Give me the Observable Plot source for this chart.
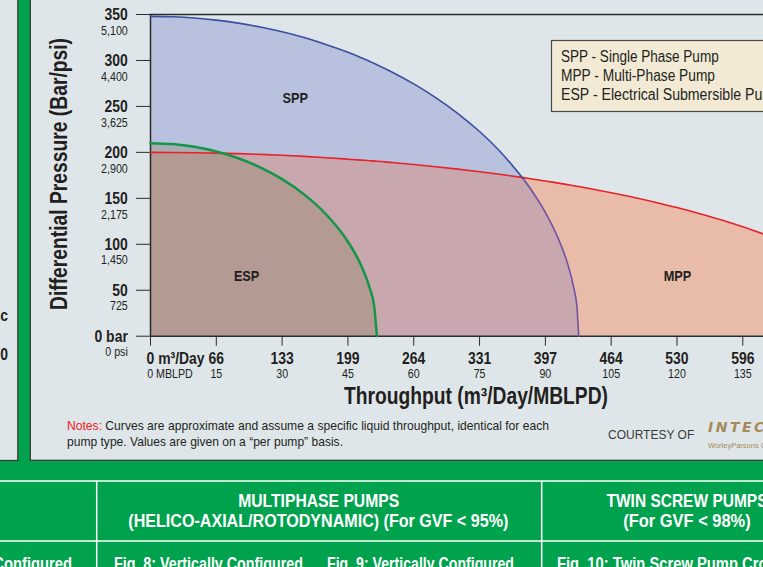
<!DOCTYPE html>
<html>
<head>
<meta charset="utf-8">
<script src="https://cdn.jsdelivr.net/npm/d3@7"></script>
<script src="https://cdn.jsdelivr.net/npm/@observablehq/plot@0.6"></script>
<style>
  html, body { margin: 0; padding: 0; }
  body { width: 763px; height: 567px; overflow: hidden; position: relative; background: #00a24d; }
  .layer { position: absolute; left: 0; top: 0; }
  #chart svg line { stroke-width: 1.5px; }
  .nar { font-family: "Liberation Sans", Arial, sans-serif; }
</style>
</head>
<body>
<svg class="layer" width="763" height="567">
  <rect x="0" y="0" width="763" height="567" fill="#00a24d"/>
  <rect x="-5" y="-5" width="22.8" height="465.5" fill="#dfe6e9" stroke="#3a3a3a" stroke-width="1.3"/>
  <rect x="30.3" y="-5" width="800" height="465.3" fill="#dfe6e9" stroke="#3a3a3a" stroke-width="1.3"/>
  <line x1="0" x2="763" y1="481" y2="481" stroke="#ffffff" stroke-width="1.5"/>
  <line x1="0" x2="763" y1="541" y2="541" stroke="#ffffff" stroke-width="1.5"/>
  <line x1="96.7" x2="96.7" y1="481" y2="567" stroke="#ffffff" stroke-width="1.5"/>
  <line x1="541.7" x2="541.7" y1="481" y2="567" stroke="#ffffff" stroke-width="1.5"/>
</svg>
<div id="chart" class="layer"></div>
<svg id="deco" class="layer nar" width="763" height="567" fill="#231f20">
  <text transform="translate(66.5,174) rotate(-90)" text-anchor="middle" font-weight="bold" font-size="23" data-w="272">Differential Pressure (Bar/psi)</text>
  <text x="476" y="404" text-anchor="middle" font-weight="bold" font-size="23" data-w="264">Throughput (m³/Day/MBLPD)</text>
  <rect x="551.5" y="40.5" width="240" height="71" fill="#f2ead5" stroke="#4a4a4a" stroke-width="1.2"/>
  <text x="561" y="61.7" font-size="16" data-w="157.7">SPP - Single Phase Pump</text>
  <text x="561" y="80.7" font-size="16" data-w="154">MPP - Multi-Phase Pump</text>
  <text x="561" y="99.5" font-size="16" data-w="221">ESP - Electrical Submersible Pump</text>
  <text x="67" y="430" font-size="13.5" data-w="482"><tspan fill="#ed1c24">Notes:</tspan> Curves are approximate and assume a specific liquid throughput, identical for each</text>
  <text x="67" y="446" font-size="13.5" data-w="276">pump type. Values are given on a “per pump” basis.</text>
  <text class="wide" x="608" y="439" font-size="12" fill="#3a3a3a">COURTESY OF</text>
  <text class="wide" x="708" y="432" font-size="14" font-weight="bold" font-style="italic" letter-spacing="2.5" fill="#a68a55" style="font-family:'DejaVu Sans',sans-serif">INTEC</text>
  <text class="wide" x="708" y="448" font-size="7.5" fill="#a68a55">WorleyParsons Group</text>
  <text x="8" y="321" text-anchor="end" font-weight="bold" font-size="17">c</text>
  <text x="8" y="360" text-anchor="end" font-weight="bold" font-size="17">0</text>
  <g fill="#ffffff" font-weight="bold" font-size="19" text-anchor="middle">
    <text x="318.7" y="507.3" data-w="161">MULTIPHASE PUMPS</text>
    <text x="318.3" y="526.5" data-w="380">(HELICO-AXIAL/ROTODYNAMIC) (For GVF &lt; 95%)</text>
    <text x="687" y="507.3" data-w="161">TWIN SCREW PUMPS</text>
    <text x="687" y="526.5" data-w="127.4">(For GVF &lt; 98%)</text>
  </g>
  <g fill="#ffffff" font-weight="bold" font-size="18">
    <text x="72" y="570" text-anchor="end">Configured</text>
    <text x="114" y="570" data-w="189">Fig. 8: Vertically Configured</text>
    <text x="327" y="570" data-w="187">Fig. 9: Vertically Configured</text>
    <text x="557" y="570">Fig. 10: Twin Screw Pump Cross Section</text>
  </g>
</svg>
<script>
// ---- data (throughput in MBLPD, pressure in bar) ----
const throughput = [0,5,10,15,20,25,30,35,40,45,48,50,51,51.6,55,60,65,70,75,80,85,90,93,95,96.5,97.2,97.6,100,105,110,115,120,125,130,135,140];
const sppPressure = [348,347.5,346.2,343.9,340.6,336.4,331.2,324.9,317.4,308.8,303.0,298.9,296.7,295.4,287.5,274.5,259.6,242.5,222.7,199.4,171.0,134.6,105.6,79.8,52.1,31.5,0,null,null,null,null,null,null,null,null,null];
const mppPressure = [200,199.9,199.6,199.2,198.6,197.8,196.8,195.6,194.2,192.6,191.6,190.9,190.5,190.3,188.9,186.8,184.4,181.8,179.0,175.9,172.5,168.9,166.5,164.9,163.7,163.1,162.8,160.7,156.1,151.2,145.8,140.0,133.6,126.7,119.0,110.6];
const espPressure = [210,209.0,206.0,200.9,193.6,183.7,170.9,154.3,132.7,102.8,77.1,51.9,31.9,0,null,null,null,null,null,null,null,null,null,null,null,null,null,null,null,null,null,null,null,null,null,null];

const xTickMBLPD = [0,15,30,45,60,75,90,105,120,135];
const xTickM3 = ["0 m³/Day","66","133","199","264","331","397","464","530","596"];
const xTickMBLPDLabel = ["0 MBLPD","15","30","45","60","75","90","105","120","135"];
const yTickBar = [0,50,100,150,200,250,300,350];
const yTickBarLabel = ["0 bar","50","100","150","200","250","300","350"];
const yTickPsiLabel = ["0 psi","725","1,450","2,175","2,900","3,625","4,400","5,100"];

const regionNames = ["SPP","ESP","MPP"];
const regionX = [33,21.9,120.1];
const regionY = [258.6,65,65];

const sppMppCross = 85;

// ---- build ----
const rows = throughput.map((x, i) => ({x, spp: sppPressure[i], mpp: mppPressure[i], esp: espPressure[i]}));
const FONT = '"Liberation Sans", Arial, sans-serif';
const curve = "monotone-x";
const xi = d3.range(xTickM3.length);
const yi = d3.range(yTickBar.length);
const ri = d3.range(regionNames.length);

const chart = Plot.plot({
  width: 763, height: 567,
  marginLeft: 150, marginRight: 0, marginTop: 14, marginBottom: 231.3,
  style: {background: "transparent", fontFamily: FONT, color: "#2b2b2b", overflow: "visible"},
  x: {domain: [0, 139.72], ticks: xTickMBLPD, tickSize: 10, tickFormat: () => "", label: null},
  y: {domain: [0, 350], ticks: yTickBar, tickSize: 14, tickFormat: () => "", label: null},
  marks: [
    Plot.areaY(rows, {x: "x", y: "mpp", fill: "#e8bca9", curve}),
    Plot.areaY(rows, {x: "x", y: "spp", fill: "#b8c2de", curve}),
    Plot.areaY(rows, {x: "x", y: d => d.spp == null ? null : Math.min(d.spp, d.mpp), fill: "#c9a7ae", curve}),
    Plot.areaY(rows, {x: "x", y: "esp", fill: "#a7adb3", curve}),
    Plot.areaY(rows, {x: "x", y: d => d.esp == null ? null : Math.min(d.esp, d.mpp), fill: "#b39a92", curve}),
    Plot.ruleY([0, 350], {stroke: "#2b2b2b", strokeWidth: 1.5}),
    Plot.ruleX([0], {stroke: "#2b2b2b", strokeWidth: 1.5}),
    Plot.line(rows, {x: "x", y: "mpp", stroke: "#e8222a", strokeWidth: 1.6, curve}),
    Plot.line(rows.filter(d => d.spp != null && d.x <= sppMppCross), {x: "x", y: "spp", stroke: "#3b4ea0", strokeWidth: 1.6, curve}),
    Plot.line(rows.filter(d => d.spp != null && d.x >= sppMppCross), {x: "x", y: "spp", stroke: "#6f54a5", strokeWidth: 1.6, curve}),
    Plot.line(rows.filter(d => d.esp != null), {x: "x", y: "esp", stroke: "#149648", strokeWidth: 2.5, curve}),
    // x tick labels
    Plot.text(xi.filter(i => i === 0), {x: i => xTickMBLPD[i], text: i => xTickM3[i], frameAnchor: "bottom", lineAnchor: "bottom", textAnchor: "start", dx: -4, dy: 27.6, fontSize: 17, fontWeight: "bold", fill: "#231f20"}),
    Plot.text(xi.filter(i => i > 0), {x: i => xTickMBLPD[i], text: i => xTickM3[i], frameAnchor: "bottom", lineAnchor: "bottom", dy: 27.6, fontSize: 17, fontWeight: "bold", fill: "#231f20"}),
    Plot.text(xi.filter(i => i === 0), {x: i => xTickMBLPD[i], text: i => xTickMBLPDLabel[i], frameAnchor: "bottom", lineAnchor: "bottom", textAnchor: "start", dx: -3.3, dy: 41.6, fontSize: 13, fill: "#231f20"}),
    Plot.text(xi.filter(i => i > 0), {x: i => xTickMBLPD[i], text: i => xTickMBLPDLabel[i], frameAnchor: "bottom", lineAnchor: "bottom", dy: 41.6, fontSize: 13, fill: "#231f20"}),
    // y tick labels
    Plot.text(yi, {y: i => yTickBar[i], text: i => yTickBarLabel[i], frameAnchor: "left", textAnchor: "end", lineAnchor: "bottom", dx: -22.7, dy: 5.3, fontSize: 17, fontWeight: "bold", fill: "#231f20"}),
    Plot.text(yi, {y: i => yTickBar[i], text: i => yTickPsiLabel[i], frameAnchor: "left", textAnchor: "end", lineAnchor: "bottom", dx: -22.7, dy: 20.2, fontSize: 13, fill: "#231f20"}),
    // region labels
    Plot.text(ri, {x: i => regionX[i], y: i => regionY[i], text: i => regionNames[i], fontSize: 15.5, fontWeight: "bold", fill: "#231f20"})
  ]
});
document.getElementById("chart").appendChild(chart);

// emulate the poster's condensed type face by narrowing the glyphs horizontally
function condense(root, F) {
  root.querySelectorAll("text").forEach(t => {
    if (t.classList.contains("wide")) return;
    const w = t.getAttribute("data-w");
    const L = w ? +w : t.getComputedTextLength() * F;
    if (!(L > 0)) return;
    t.setAttribute("textLength", L);
    t.setAttribute("lengthAdjust", "spacingAndGlyphs");
  });
}
condense(chart, 0.82);
condense(document.getElementById("deco"), 0.82);
</script>
</body>
</html>
